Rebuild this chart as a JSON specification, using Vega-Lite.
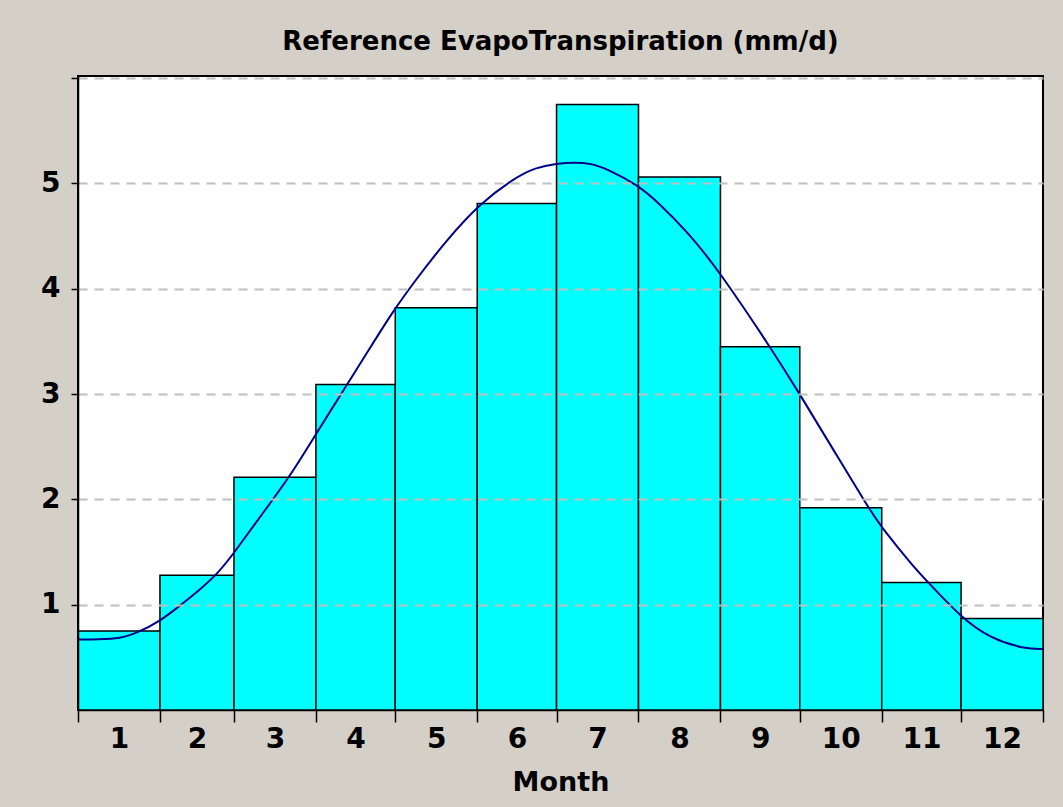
{
  "$schema": "https://vega.github.io/schema/vega-lite/v6.json",
  "width": 965,
  "height": 634,
  "autosize": "none",
  "padding": {"left": 78, "top": 76, "right": 20, "bottom": 97},
  "background": "#d4d0c8",
  "title": {
    "text": "Reference EvapoTranspiration (mm/d)",
    "font": "DejaVu Sans",
    "fontSize": 26,
    "fontWeight": "bold",
    "color": "#000000",
    "anchor": "middle",
    "frame": "group",
    "offset": 9
  },
  "config": {
    "view": {"fill": "white", "stroke": "black", "strokeWidth": 2},
    "axis": {
      "labelFont": "DejaVu Sans",
      "labelFontWeight": "bold",
      "labelFontSize": 28,
      "labelColor": "#000000",
      "titleFont": "DejaVu Sans",
      "titleFontWeight": "bold",
      "titleFontSize": 27,
      "titleColor": "#000000",
      "domainColor": "#000000",
      "tickColor": "#000000",
      "labelOverlap": false,
      "labelFlush": false
    }
  },
  "datasets": {
    "bars": [
      {"month": 1, "start": 0, "end": 31, "et": 0.75},
      {"month": 2, "start": 31, "end": 59, "et": 1.28},
      {"month": 3, "start": 59, "end": 90, "et": 2.21},
      {"month": 4, "start": 90, "end": 120, "et": 3.09},
      {"month": 5, "start": 120, "end": 151, "et": 3.82},
      {"month": 6, "start": 151, "end": 181, "et": 4.81},
      {"month": 7, "start": 181, "end": 212, "et": 5.75},
      {"month": 8, "start": 212, "end": 243, "et": 5.06},
      {"month": 9, "start": 243, "end": 273, "et": 3.45},
      {"month": 10, "start": 273, "end": 304, "et": 1.92},
      {"month": 11, "start": 304, "end": 334, "et": 1.21},
      {"month": 12, "start": 334, "end": 365, "et": 0.87}
    ],
    "curve": [
      {"day": 0, "et": 0.67},
      {"day": 8, "et": 0.67},
      {"day": 16, "et": 0.68},
      {"day": 22, "et": 0.73},
      {"day": 31, "et": 0.84},
      {"day": 40, "et": 1.02},
      {"day": 46, "et": 1.14},
      {"day": 53, "et": 1.30},
      {"day": 59, "et": 1.49},
      {"day": 69, "et": 1.84},
      {"day": 80, "et": 2.21},
      {"day": 90, "et": 2.62},
      {"day": 101, "et": 3.06},
      {"day": 111, "et": 3.46},
      {"day": 119, "et": 3.78},
      {"day": 127, "et": 4.06},
      {"day": 139, "et": 4.45},
      {"day": 152, "et": 4.81},
      {"day": 165, "et": 5.05},
      {"day": 173, "et": 5.15},
      {"day": 181, "et": 5.19},
      {"day": 188, "et": 5.20},
      {"day": 194, "et": 5.19},
      {"day": 200, "et": 5.14},
      {"day": 212, "et": 4.98},
      {"day": 219, "et": 4.83},
      {"day": 231, "et": 4.53},
      {"day": 243, "et": 4.15},
      {"day": 262, "et": 3.44},
      {"day": 273, "et": 3.00},
      {"day": 285, "et": 2.50},
      {"day": 299, "et": 1.92},
      {"day": 304, "et": 1.73},
      {"day": 316, "et": 1.36},
      {"day": 322, "et": 1.20},
      {"day": 334, "et": 0.88},
      {"day": 345, "et": 0.68},
      {"day": 358, "et": 0.58},
      {"day": 365, "et": 0.58}
    ]
  },
  "layer": [
    {
      "data": {"name": "bars"},
      "mark": {"type": "bar", "fill": "#00ffff", "stroke": "#000000", "strokeWidth": 1.5},
      "encoding": {
        "x": {
          "field": "start",
          "type": "quantitative",
          "scale": {"domain": [0, 365], "nice": false, "zero": false},
          "axis": {
            "orient": "bottom",
            "values": [0, 31, 59, 90, 120, 151, 181, 212, 243, 273, 304, 334, 365],
            "labels": false,
            "ticks": true,
            "tickSize": 12,
            "tickWidth": 1.5,
            "grid": false,
            "domainWidth": 1.5,
            "title": null
          }
        },
        "x2": {"field": "end"},
        "y": {
          "field": "et",
          "type": "quantitative",
          "scale": {"domain": [0, 6.02], "nice": false},
          "axis": {
            "values": [1, 2, 3, 4, 5, 6],
            "format": "d",
            "labelExpr": "datum.value >= 6 ? '' : datum.label",
            "tickSize": 7,
            "tickWidth": 1.5,
            "labelPadding": 11,
            "domainWidth": 1.5,
            "grid": true,
            "gridDash": [9, 7],
            "gridColor": "#c0c0c0",
            "gridWidth": 2,
            "zindex": 1,
            "title": null
          }
        },
        "y2": {"datum": 0}
      }
    },
    {
      "data": {"name": "curve"},
      "mark": {"type": "line", "color": "#000088", "strokeWidth": 2, "interpolate": "basis"},
      "encoding": {
        "x": {
          "field": "day",
          "type": "quantitative",
          "axis": {
            "orient": "bottom",
            "values": [15.5, 45, 74.5, 105, 135.5, 166, 196.5, 227.5, 258, 288.5, 319, 349.5],
            "labelExpr": "indexof([15.5, 45, 74.5, 105, 135.5, 166, 196.5, 227.5, 258, 288.5, 319, 349.5], datum.value) + 1",
            "ticks": false,
            "domain": false,
            "grid": false,
            "labelBaseline": "alphabetic",
            "labelPadding": 37,
            "title": "Month",
            "titleBaseline": "alphabetic",
            "titleY": 80
          }
        },
        "y": {"field": "et", "type": "quantitative", "axis": {"title": null}}
      }
    }
  ],
  "resolve": {"axis": {"x": "independent"}}
}
